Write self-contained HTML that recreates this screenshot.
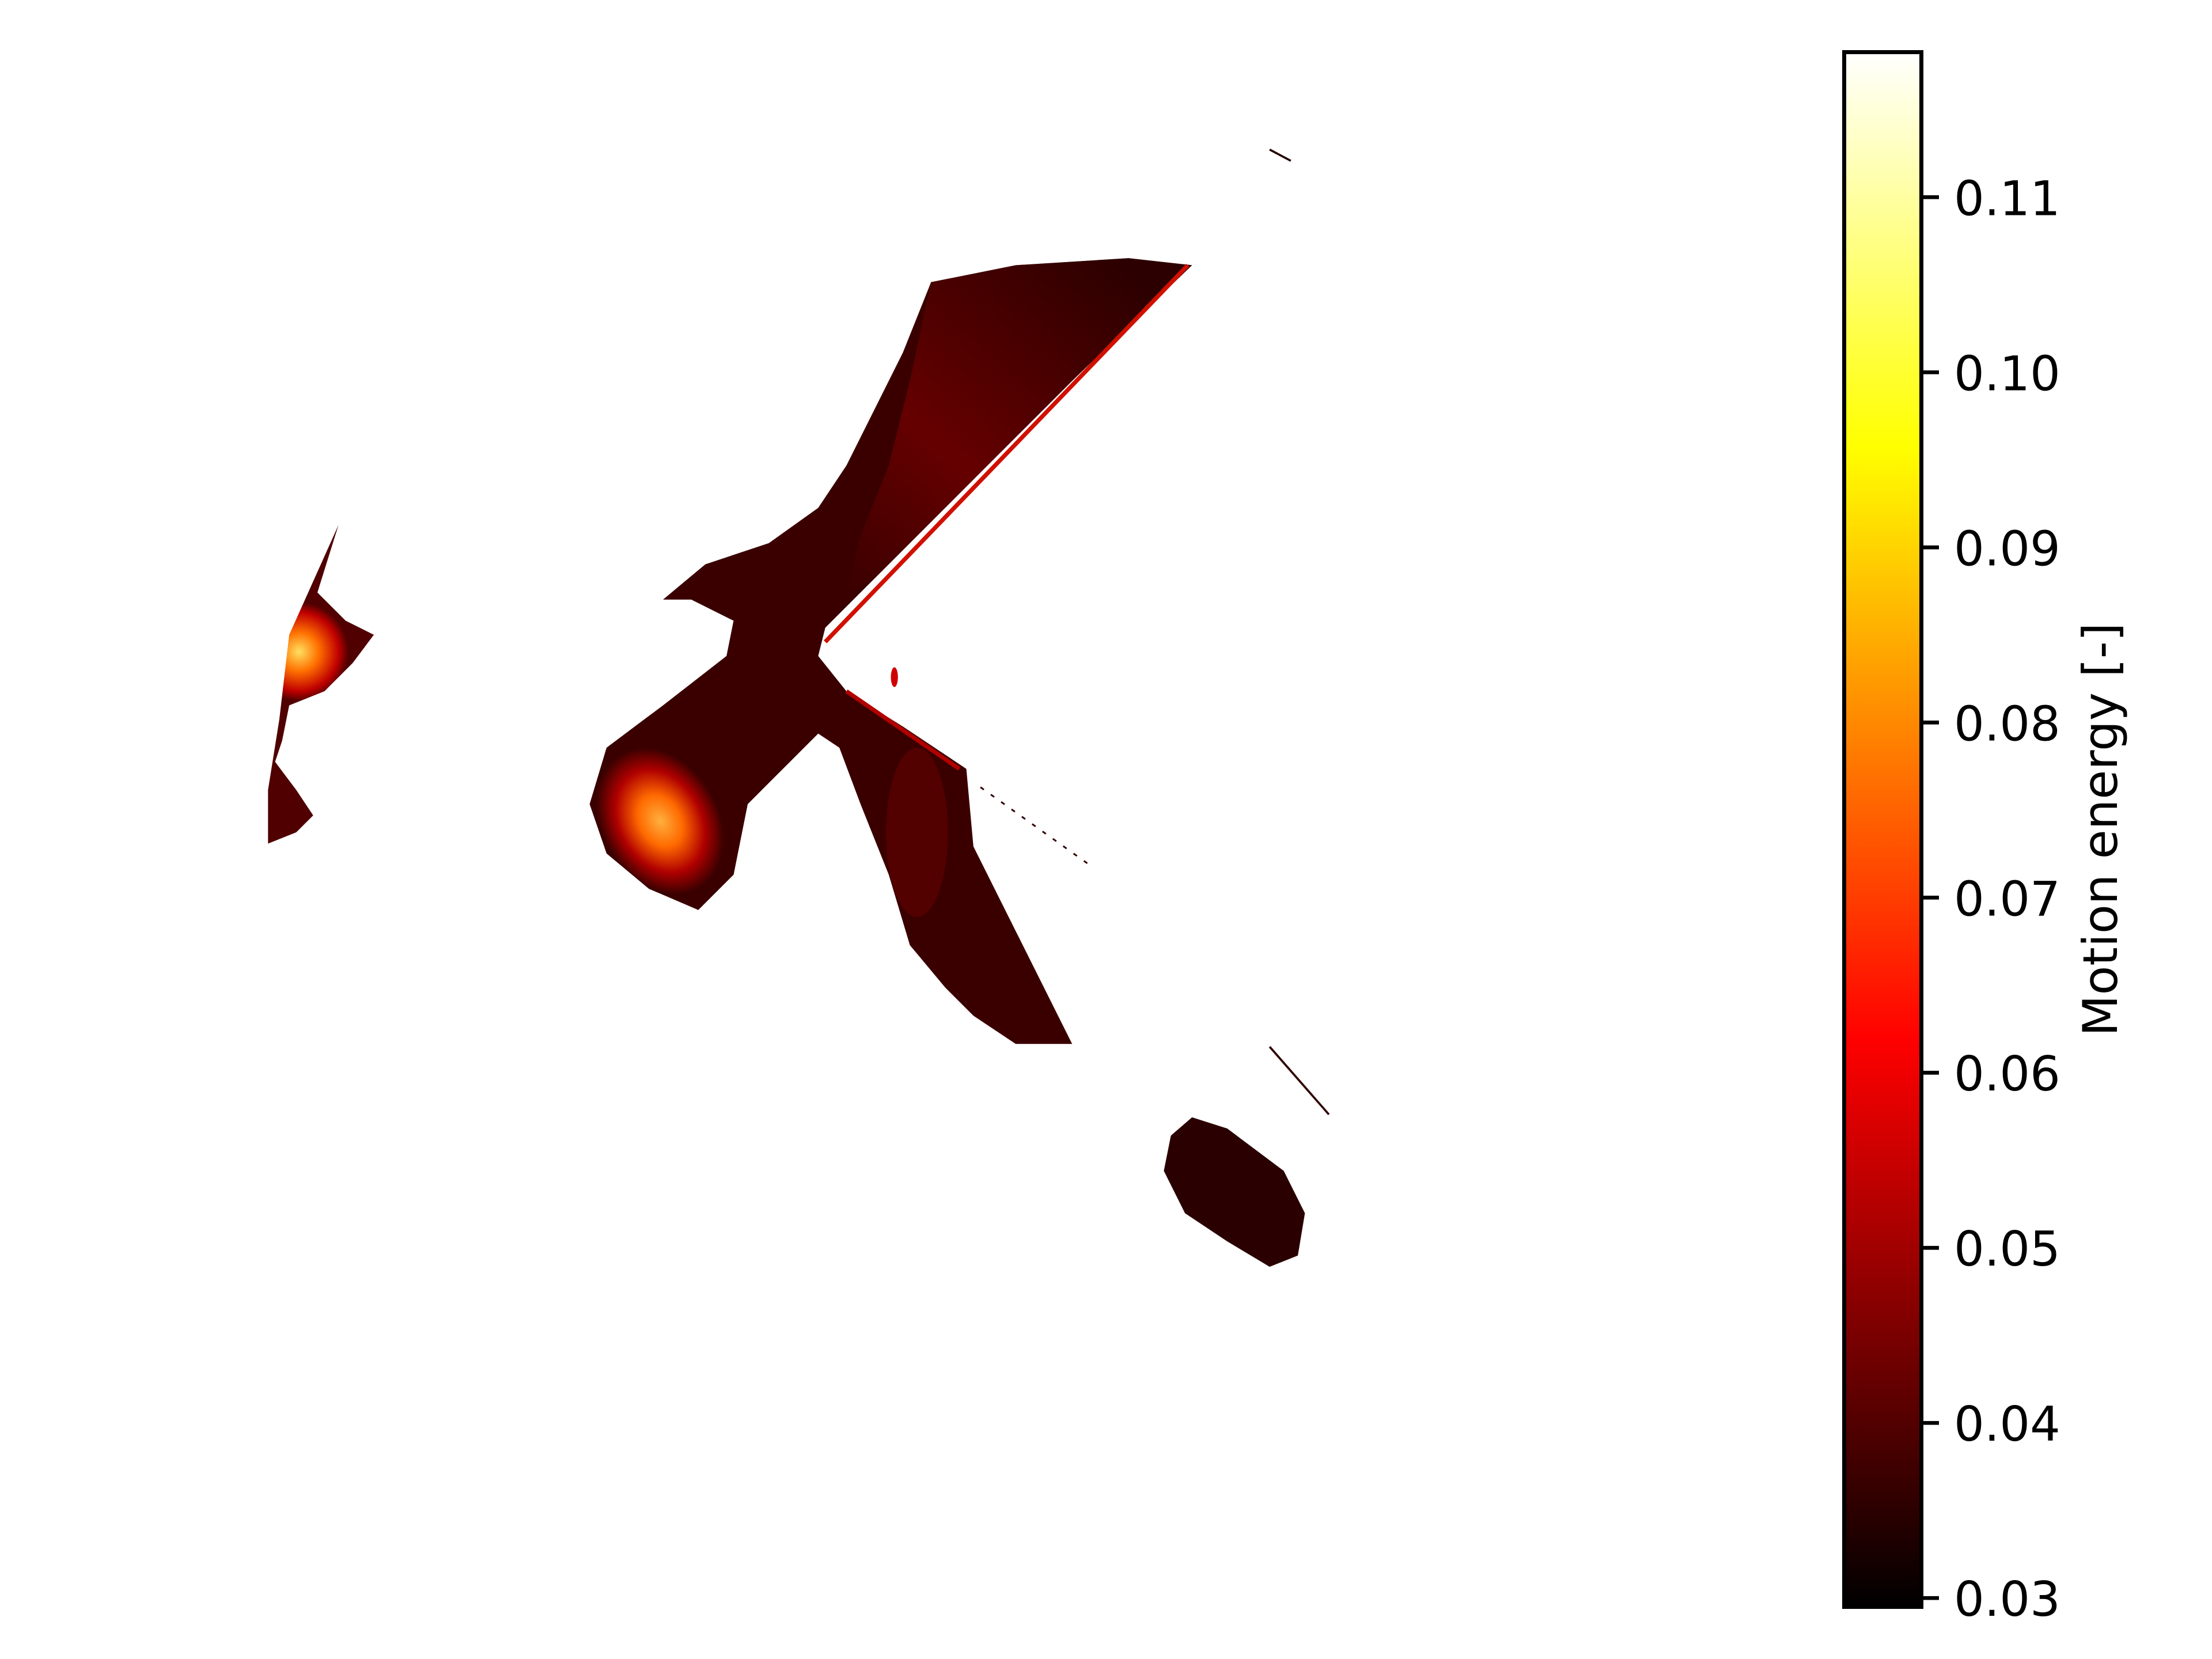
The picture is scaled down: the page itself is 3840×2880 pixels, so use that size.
<!DOCTYPE html>
<html><head><meta charset="utf-8"><style>
html,body{margin:0;padding:0;background:#fff;}
#wrap{position:relative;width:3840px;height:2880px;overflow:hidden;font-family:"DejaVu Sans","Liberation Sans",sans-serif;}
</style></head><body>
<div id="wrap">
<svg id="map" width="3840" height="2880" viewBox="0 0 1568 1176" preserveAspectRatio="none" style="position:absolute;left:0;top:0">
<defs>
<radialGradient id="hot1" cx="468" cy="582" r="55" gradientUnits="userSpaceOnUse" gradientTransform="translate(468 582) rotate(60) scale(1 0.75) translate(-468 -582)">
<stop offset="0" stop-color="#ffb040"/><stop offset="0.35" stop-color="#ff6a00"/><stop offset="0.7" stop-color="#b00000"/><stop offset="1" stop-color="#3a0000"/></radialGradient>
<radialGradient id="hot2" cx="212" cy="462" r="35" gradientUnits="userSpaceOnUse">
<stop offset="0" stop-color="#ffe060"/><stop offset="0.4" stop-color="#ff7000"/><stop offset="0.8" stop-color="#c00000"/><stop offset="1" stop-color="#500000"/></radialGradient>
<linearGradient id="wing" x1="800" y1="190" x2="600" y2="420" gradientUnits="userSpaceOnUse">
<stop offset="0" stop-color="#2a0000"/><stop offset="0.6" stop-color="#6a0000"/><stop offset="1" stop-color="#3a0000"/></linearGradient>
<clipPath id="mainclip"><polygon points="660,200 720,188 800,183 845,188 760,270 680,350 620,410 585,445 580,465 600,490 640,515 685,545 690,600 705,630 720,660 740,700 760,740 720,740 690,720 670,700 645,670 630,620 610,570 595,530 580,520 560,540 530,570 520,620 495,645 460,630 430,605 418,570 430,530 470,500 515,465 520,440 490,425 470,425 500,400 545,385 580,360 600,330 620,290 640,250"/></clipPath>
</defs>
<polygon fill="#3a0000" points="660,200 720,188 800,183 845,188 760,270 680,350 620,410 585,445 580,465 600,490 640,515 685,545 690,600 705,630 720,660 740,700 760,740 720,740 690,720 670,700 645,670 630,620 610,570 595,530 580,520 560,540 530,570 520,620 495,645 460,630 430,605 418,570 430,530 470,500 515,465 520,440 490,425 470,425 500,400 545,385 580,360 600,330 620,290 640,250"/>
<g clip-path="url(#mainclip)">
<polygon fill="url(#wing)" opacity="0.9" points="660,200 720,188 800,183 845,188 760,270 680,350 620,410 600,420 610,380 630,330 645,270"/>
<ellipse cx="468" cy="582" rx="75" ry="75" fill="url(#hot1)"/>
<ellipse cx="650" cy="590" rx="22" ry="60" fill="#6a0000" opacity="0.5"/>
</g>
<line x1="842" y1="188" x2="585" y2="455" stroke="#d01000" stroke-width="3"/>
<line x1="600" y1="490" x2="680" y2="545" stroke="#b00000" stroke-width="3"/>
<polygon fill="url(#hot2)" points="240,372 225,420 245,440 265,450 250,470 230,490 205,500 200,525 195,540 210,560 222,578 210,590 190,598 190,560 198,510 205,450"/>
<polygon fill="#2a0000" points="845,792 870,800 910,830 925,860 920,890 900,898 870,880 840,860 825,830 830,805"/>
<line x1="900" y1="742" x2="942" y2="790" stroke="#300000" stroke-width="1.5"/>
<line x1="695" y1="558" x2="775" y2="615" stroke="#300000" stroke-width="1.2" stroke-dasharray="3 6"/>
<ellipse cx="634" cy="480" rx="2.5" ry="7" fill="#d00000"/>
<line x1="900" y1="106" x2="915" y2="114" stroke="#200000" stroke-width="1.5"/>
</svg>
<svg id="cb" width="3840" height="2880" style="position:absolute;left:0;top:0">
<defs><linearGradient id="hotcm" x1="0" y1="0" x2="0" y2="1">
<stop offset="0" stop-color="#ffffff"/><stop offset="0.254" stop-color="#ffff00"/><stop offset="0.635" stop-color="#ff0000"/><stop offset="1" stop-color="#000000"/></linearGradient></defs>
<rect x="3201.5" y="90.5" width="134" height="2699" fill="url(#hotcm)" stroke="#000" stroke-width="7"/>
<g id="ticks"></g>
<text x="0" y="0" font-size="83" text-anchor="middle" transform="translate(3675,1440) rotate(-90)">Motion energy [-]</text>
</svg>
</div>
<script>
const tickValues=[0.03,0.04,0.05,0.06,0.07,0.08,0.09,0.10,0.11];
const tickLabels=["0.03","0.04","0.05","0.06","0.07","0.08","0.09","0.10","0.11"];
const vmin=0.02948, vmax=0.1183;
function yScale(v){return 2790-(v-vmin)/(vmax-vmin)*(2790-90);}
const g=document.getElementById('ticks');
const ns='http://www.w3.org/2000/svg';
tickValues.forEach((v,i)=>{
 const y=yScale(v);
 const l=document.createElementNS(ns,'line');
 
 
 l.setAttribute('x1',3338);l.setAttribute('x2',3366);l.setAttribute('y1',y);l.setAttribute('y2',y);
 l.setAttribute('stroke','#000');l.setAttribute('stroke-width',6.7);
 g.appendChild(l);
 const t=document.createElementNS(ns,'text');
 
 
 t.setAttribute('x',3392);t.setAttribute('y',y+31);t.setAttribute('font-size',83);
 t.textContent=tickLabels[i];
 g.appendChild(t);
});
</script>
</body></html>
